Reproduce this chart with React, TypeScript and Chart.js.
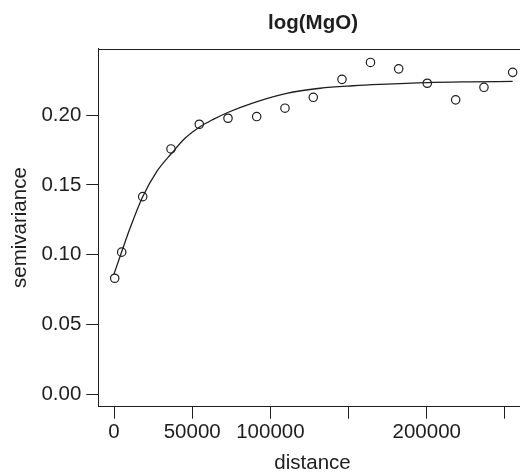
import React, { useEffect, useRef } from "react";
import { Chart, registerables } from "chart.js";

Chart.register(...registerables);

// ---- data ----
const titleText = "log(MgO)";
const xAxisTitle = "distance";
const yAxisTitle = "semivariance";

// sample (empirical) semivariogram points
const sampleDistance = [450, 4920, 18350, 36450, 54540, 72890, 91240, 109330, 127430, 145780, 164000, 182030, 200320, 218480, 236570, 254920];
const sampleGamma = [0.0831, 0.1018, 0.1416, 0.1758, 0.1935, 0.1978, 0.1990, 0.2050, 0.2128, 0.2257, 0.2378, 0.2332, 0.2229, 0.2110, 0.2200, 0.2307];

// fitted model line, read at several distances
const modelDistance = [0, 4920, 10230, 18350, 27300, 36890, 45400, 54990, 63490, 73080, 89070, 110420, 131710, 153000, 170080, 200320, 227000, 254920];
const modelGamma = [0.0861, 0.1021, 0.1189, 0.1415, 0.1595, 0.1727, 0.1834, 0.1917, 0.1970, 0.2021, 0.2089, 0.2157, 0.2193, 0.2211, 0.2221, 0.2234, 0.2239, 0.2242];

// axes
const xTickValues = [0, 50000, 100000, 150000, 200000, 250000];
const xTickLabels = ["0", "50000", "100000", "", "200000", ""];
const yTickValues = [0, 0.05, 0.1, 0.15, 0.2];
const yTickLabels = ["0.00", "0.05", "0.10", "0.15", "0.20"];
const xRange = [-10040, 263900];
const yRange = [-0.009, 0.2478];

const ink = "#1e1e1e";
const family = "'Liberation Sans', Arial, Helvetica, sans-serif";

const boxPlugin = {
  id: "panelBox",
  afterDraw(chart: any) {
    const { ctx, chartArea } = chart;
    const top = Math.round(chartArea.top) + 0.5;
    const right = Math.round(chartArea.right) - 0.5;
    ctx.save();
    ctx.strokeStyle = ink;
    ctx.lineWidth = 1;
    ctx.beginPath();
    ctx.moveTo(chartArea.left, top);
    ctx.lineTo(right, top);
    ctx.lineTo(right, chartArea.bottom);
    ctx.stroke();
    ctx.restore();
  },
};

export default function App() {
  const ref = useRef<HTMLCanvasElement | null>(null);

  useEffect(() => {
    if (!ref.current) return;
    const chart = new Chart(ref.current, {
      type: "scatter",
      data: {
        datasets: [
          {
            label: "model",
            data: modelDistance.map((x, i) => ({ x, y: modelGamma[i] })),
            showLine: true,
            borderColor: ink,
            borderWidth: 1.3,
            pointRadius: 0,
            cubicInterpolationMode: "monotone",
            fill: false,
          } as any,
          {
            label: "sample",
            data: sampleDistance.map((x, i) => ({ x, y: sampleGamma[i] })),
            showLine: false,
            pointStyle: "circle",
            pointRadius: 4.2,
            pointBorderWidth: 1.2,
            borderWidth: 1.2,
            pointBorderColor: ink,
            borderColor: ink,
            pointBackgroundColor: "rgba(0,0,0,0)",
            backgroundColor: "rgba(0,0,0,0)",
          } as any,
        ],
      },
      options: {
        responsive: false,
        animation: false,
        events: [],
        layout: { padding: 0 },
        plugins: {
          legend: { display: false },
          tooltip: { enabled: false },
          title: {
            display: true,
            text: titleText,
            color: ink,
            font: { family, size: 20.5, weight: "bold", lineHeight: 1.2 },
            padding: { top: 11.1, bottom: 12.8 },
          },
        },
        scales: {
          x: {
            type: "linear",
            position: "bottom",
            min: xRange[0],
            max: xRange[1],
            afterBuildTicks: (s: any) => {
              s.ticks = xTickValues.map((v) => ({ value: v }));
            },
            afterFit: (s: any) => {
              s.height = 67.3;
            },
            ticks: {
              autoSkip: false,
              maxRotation: 0,
              minRotation: 0,
              padding: 1,
              color: ink,
              font: { family, size: 20.5, lineHeight: 1.2 },
              callback: (v: any) => xTickLabels[xTickValues.indexOf(Number(v))] ?? "",
            },
            grid: {
              display: true,
              drawOnChartArea: false,
              drawTicks: true,
              tickLength: 12,
              tickColor: ink,
              tickWidth: 1,
            },
            border: { display: true, color: ink, width: 1 },
            title: {
              display: true,
              text: xAxisTitle,
              color: ink,
              font: { family, size: 20.5, lineHeight: 1 },
              padding: { top: 0, bottom: 0 },
            },
          },
          y: {
            type: "linear",
            position: "left",
            min: yRange[0],
            max: yRange[1],
            afterBuildTicks: (s: any) => {
              s.ticks = yTickValues.map((v) => ({ value: v }));
            },
            afterFit: (s: any) => {
              s.width = 98.3;
            },
            ticks: {
              autoSkip: false,
              padding: 5,
              color: ink,
              font: { family, size: 20.5, lineHeight: 1.2 },
              callback: (v: any) => yTickLabels[yTickValues.findIndex((t) => Math.abs(t - Number(v)) < 1e-9)] ?? "",
            },
            grid: {
              display: true,
              drawOnChartArea: false,
              drawTicks: true,
              tickLength: 12,
              tickColor: ink,
              tickWidth: 1,
            },
            border: { display: true, color: ink, width: 1 },
            title: {
              display: true,
              text: yAxisTitle,
              color: ink,
              font: { family, size: 20.5, lineHeight: 1 },
              padding: { top: 10.5, bottom: 0 },
            },
          },
          yRight: {
            type: "linear",
            position: "right",
            display: true,
            min: yRange[0],
            max: yRange[1],
            afterFit: (s: any) => {
              s.width = 99.3;
            },
            ticks: { display: false },
            grid: { display: false, drawTicks: false },
            border: { display: false },
          },
        },
      } as any,
      plugins: [boxPlugin],
    });
    return () => chart.destroy();
  }, []);

  return (
    <div
      style={{
        position: "fixed",
        left: 0,
        top: 0,
        width: 520,
        height: 474,
        overflow: "hidden",
        background: "#ffffff",
      }}
    >
      <canvas ref={ref} width={626} height={474} style={{ display: "block" }} />
    </div>
  );
}
